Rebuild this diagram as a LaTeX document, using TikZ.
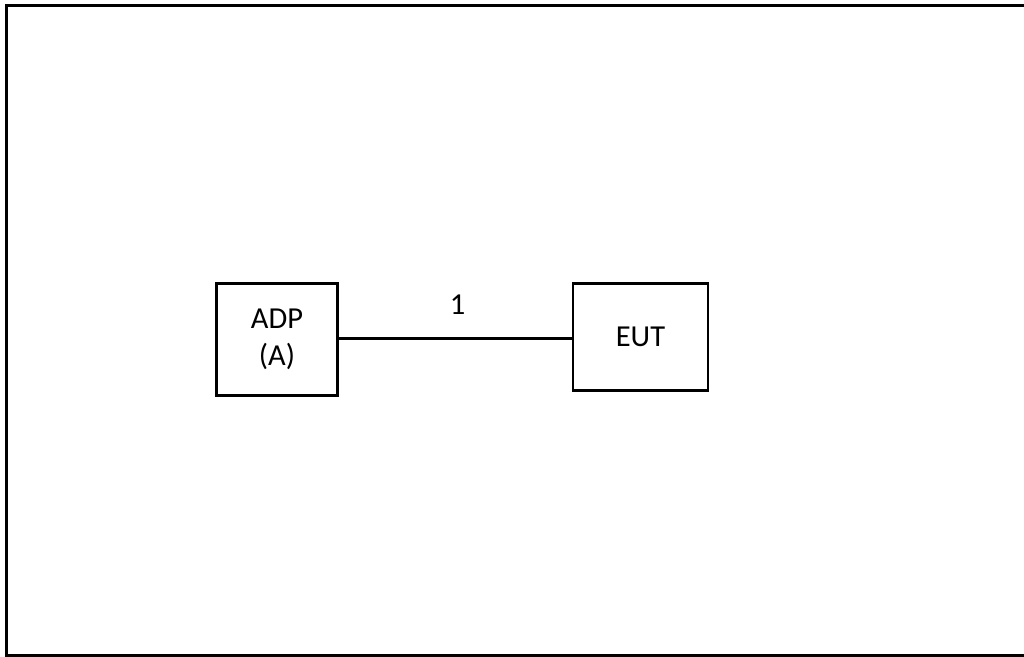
\documentclass[tikz,border=0pt]{standalone}
\usepackage{fontspec}
\setmainfont{Carlito}
\usepackage{tikz}

\begin{document}
\begin{tikzpicture}[x=0.03cm,y=-0.03cm]
			\useasboundingbox (0,0) rectangle (1024,657);
			\tikzset{unit/.style={draw,line width=2.4pt,inner sep=0pt,font=\fontsize{26}{32}\selectfont,align=center}}
			\coordinate (adpc) at (277,339.5);
			\coordinate (eutc) at (640.5,337);
			\draw[line width=2.4pt] (6.5,680)--(6.5,5.5)--(1040,5.5);
			\draw[line width=2.4pt] (6.5,655.5)--(1040,655.5);
			\node[unit,minimum width=121*0.03cm,minimum height=112*0.03cm] (adp) at (adpc) {ADP\\(A)};
			\node[unit,minimum width=135*0.03cm,minimum height=107.5*0.03cm] (eut) at (eutc) {EUT};
			\draw[line width=2.4pt] (adp.east|-0,338.5)--(eut.west|-0,338.5);
			\node[font=\fontsize{26}{32}\selectfont] (one) at (457.5,305) {1};
		\end{tikzpicture}
\end{document}
